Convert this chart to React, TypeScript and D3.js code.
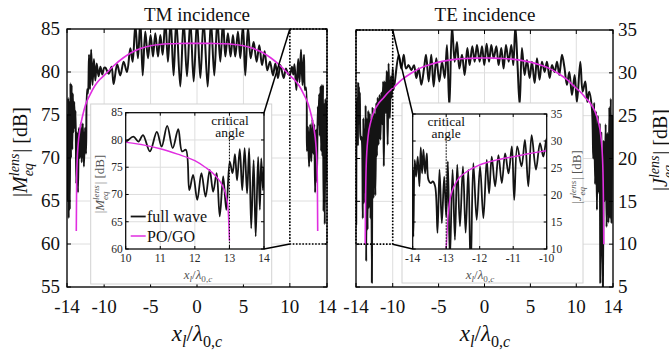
import React from 'react';
import * as d3 from 'd3';

// ---------------- DATA ----------------
const titles = ['TM incidence', 'TE incidence'];
const legendLabels = ['full wave', 'PO/GO'];
const criticalLabel = ['critical', 'angle'];

const mainXTicks = [-14, -10, -5, 0, 5, 10, 14];
const tmYTicks = [55, 60, 65, 70, 75, 80, 85];
const teYTicks = [5, 10, 15, 20, 25, 30, 35];
const tmInsetXTicks = [10, 11, 12, 13, 14];
const tmInsetYTicks = [60, 65, 70, 75, 80, 85];
const teInsetXTicks = [-14, -13, -12, -11, -10];
const teInsetYTicks = [10, 15, 20, 25, 30, 35];
const criticalTM = 13;
const criticalTE = -13;

// TM full wave (x / lambda, dB)
const tmFullX = [
  -14, -13.97, -13.92, -13.87, -13.82, -13.76, -13.7, -13.63, -13.57, -13.5, -13.43, -13.37, -13.3, -13.22, -13.16, -13.08,
  -13.0, -12.9, -12.82, -12.72, -12.62, -12.52, -12.42, -12.3, -12.18, -12.06, -11.95, -11.84, -11.74, -11.63, -11.52, -11.4,
  -11.25, -11.1, -10.95, -10.8, -10.6, -10.4, -10.2, -10.0,
  -9.87, -9.5, -9.2, -8.98, -8.6, -8.26, -7.9, -7.54, -7.18, -6.93, -6.64, -6.36, -6.1, -5.85, -5.57, -5.28, -5.0, -4.74,
  -4.49, -4.2, -3.95, -3.7, -3.41, -3.13, -2.84, -2.52, -2.23, -1.8, -1.44, -1.08, -0.72, -0.36, 0, 0.36, 0.71, 1.15, 1.5,
  1.86, 2.19, 2.51, 2.8, 3.05, 3.33, 3.62, 3.87, 4.12, 4.41, 4.66, 4.95, 5.2, 5.49, 5.78, 6.1, 6.42, 6.71, 7.0, 7.28, 7.57,
  7.86, 8.18, 8.43, 8.72, 8.97, 9.33, 9.58, 9.8,
  10, 10.22, 10.37, 10.5, 10.7, 10.9, 11.04, 11.2, 11.36, 11.52, 11.63, 11.74, 11.84, 11.95, 12.07, 12.19, 12.31, 12.43,
  12.53, 12.63, 12.72, 12.82, 12.91, 13.01, 13.09, 13.16, 13.22, 13.3, 13.37, 13.44, 13.51, 13.57, 13.63, 13.7, 13.76,
  13.83, 13.88, 13.92, 13.97, 14,
];
const tmFullY = [
  70, 75, 65, 77, 63, 76.5, 64, 78.7, 70, 78.5, 71, 77.5, 73, 76.5, 73.5, 75.5,
  67, 73, 66, 73.5, 70, 74, 69.5, 74, 69, 73.5, 70.5, 78, 77.5, 82, 78, 82.6,
  78.5, 81.5, 79, 81, 79.5, 80.6, 79.7, 80.5,
  80.5, 79.8, 80.6, 78.6, 80.9, 79.6, 81.2, 80.0, 82.75, 81.2, 85.5, 81.6, 86, 79.6, 84.7, 81.6, 84.3, 81.8,
  84.5, 81.8, 84.3, 82, 86, 81.2, 86, 79.6, 86, 78.3, 86, 79.5, 86, 78.9, 86, 79.3, 86, 78.3, 86,
  79.6, 86, 81.2, 86, 81.8, 84.5, 81.8, 84.3, 81.8, 84.7, 81.6, 85.5, 79.6, 85.2, 81.6, 83.5, 81.2, 83.1, 80.8, 82.4, 80.2,
  81.2, 79.6, 81.0, 79.3, 80.8, 79.3, 80.4, 79.8,
  79.7, 80.6, 79.7, 80.9, 77.9, 81.5, 78.8, 82.6, 78.5, 82, 77.9, 78.2, 70.8, 73.6, 69, 73.9, 69.6, 74.5,
  70.5, 73.9, 66, 73.3, 67.2, 76, 73.9, 77.4, 72.6, 78.3, 70.8, 78.5, 70.2, 78.5, 63.8, 76.3, 62.3,
  76.9, 67.2, 76.6, 70.8, 75,
];

// TM PO/GO
const tmPogoX = [
  -13.0, -12.96, -12.9, -12.8, -12.6, -12.3, -12, -11.5, -11, -10.5, -10, -9, -8, -7, -6, -5, -4, -3, -2, -1, 0,
  1, 2, 3, 4, 5, 6, 7, 8, 9, 10, 10.5, 11, 11.5, 12, 12.3, 12.6, 12.8, 12.9, 12.96, 13.0,
];
const tmPogoY = [
  61.5, 67.5, 69.8, 71.6, 73.4, 75, 76.2, 77.4, 78.4, 79.1, 79.6, 80.7, 81.6, 82.3, 82.75, 83.05, 83.2, 83.28, 83.32, 83.33, 83.33,
  83.33, 83.32, 83.28, 83.2, 83.05, 82.75, 82.3, 81.6, 80.7, 79.6, 79.1, 78.4, 77.4, 76.2, 75, 73.4, 71.6, 69.8, 67.5, 61.5,
];

// TE full wave
const teFullX = [
  -14, -13.98, -13.94, -13.9, -13.85, -13.8, -13.76, -13.72, -13.68, -13.63, -13.58, -13.53, -13.46, -13.4, -13.33, -13.26,
  -13.2, -13.13, -13.06, -13.0, -12.95, -12.89, -12.81, -12.74, -12.67, -12.59, -12.5, -12.42, -12.34, -12.27, -12.19, -12.09,
  -11.99, -11.89, -11.79, -11.72, -11.64, -11.54, -11.44, -11.34, -11.24, -11.14, -11.04, -10.97, -10.88, -10.75, -10.65,
  -10.55, -10.45, -10.32, -10.2, -10.1, -10,
  -9.9, -9.35, -9.06, -8.8, -8.55, -8.26, -7.97, -7.68, -7.43, -7.17, -6.88, -6.59, -6.37, -6.08, -5.8, -5.54, -5.25, -4.92,
  -4.63, -4.34, -4.09, -3.83, -3.54, -3.25, -3.0, -2.74, -2.45, -2.16, -1.87, -1.62, -1.33, -1.07, -0.82, -0.53, -0.27, -0.02,
  0.23, 0.49, 0.74, 1.0, 1.29, 1.54, 1.83, 2.08, 2.34, 2.63, 2.92, 3.14, 3.36, 3.6, 3.83, 4.08, 4.37, 4.63, 4.92, 5.17, 5.46,
  5.72, 6.0, 6.26, 6.55, 6.8, 7.1, 7.35, 7.64, 7.9, 8.15, 8.44, 8.7, 8.98, 9.24, 9.53, 9.82, 10.07, 10.44, 10.69, 10.98, 11.2,
  11.4, 11.7,
  11.85, 11.95, 12.05, 12.15, 12.25, 12.35, 12.45, 12.55, 12.62, 12.72, 12.8, 12.9, 13.0, 13.1, 13.2, 13.3, 13.4, 13.5, 13.6,
  13.68, 13.76, 13.84, 13.92, 14,
];
const teFullY = [
  24.7, 12.3, 26.5, 23.4, 27.1, 21.6, 28.8, 24, 28.4, 24, 27.7, 22.8, 22.2, 22.5, 21.6, 13,
  24.7, 14.8, 23.4, 16, 26.2, 8, 24.7, 11.7, 25.6, 14.2, 25.3, 13, 24.7, 5.5, 25.9, 15.4,
  25.3, 15.7, 26.5, 20.3, 27.1, 21.6, 27.4, 22.2, 27.7, 24, 29, 19.1, 29, 25.3, 30.2,
  21.6, 31.1, 24.7, 29.6, 27.1, 30.5,
  28, 32.1, 30.5, 32.1, 30.5, 30.9, 30.3, 30.9, 29.4, 30.5, 28.6, 30.5, 32.1, 29, 32.1, 28.4, 31.7, 29,
  31.3, 29.4, 33.25, 25.9, 35.5, 31.3, 33.6, 30.5, 32.1, 29.75, 32.9, 30.9, 33.1, 31.3, 33.25, 31.3, 33.1, 30.9,
  33.4, 31.3, 33.25, 31.7, 33.1, 30.9, 32.9, 30.5, 33.25, 31.3, 33.25, 30.9, 35.5, 30.9, 26.2, 32.9, 29.75, 31.5, 29.4, 31.3, 28.8,
  31.7, 29.2, 31.3, 30.1, 31.3, 29.4, 30.9, 30.1, 31.3, 29.75, 32.1, 30.7, 28.6, 30.1, 27.4, 29.75, 26.6, 31.3, 27.8, 29, 26.6,
  27.8, 25.9,
  20, 26.5, 17, 25.5, 14, 25, 16, 24, 5.5, 23, 13, 5, 22, 15, 24, 12, 23, 12.5, 26,
  13, 27, 12.5, 25, 20,
];

// TE PO/GO
const tePogoX = [
  -13.0, -12.96, -12.89, -12.69, -12.39, -11.99, -11.49, -10.99, -10.5, -10, -9, -8, -7, -6, -5, -4, -3, -2, -1, 0,
  1, 2, 3, 4, 5, 6, 7, 8, 9, 10, 10.5, 10.99, 11.49, 11.99, 12.39, 12.69, 12.89, 12.96, 13.0,
];
const tePogoY = [
  10, 14.8, 19.1, 22.5, 24.3, 25.6, 26.5, 27.1, 27.7, 28.2, 29.2, 29.95, 30.55, 30.95, 31.25, 31.45, 31.6, 31.68, 31.72, 31.73,
  31.72, 31.68, 31.6, 31.45, 31.25, 30.95, 30.55, 29.95, 29.2, 28.2, 27.7, 27.1, 26.5, 25.6, 24.3, 22.5, 19.1, 14.8, 10,
];

// ---------------- STYLE ----------------
const FONT = '"Liberation Serif", "DejaVu Serif", serif';
const MAGENTA = '#e02ee0';
const BLACK = '#141414';
const GRID = '#dedede';

type Scale = d3.ScaleLinear<number, number>;

function makeLine(x: Scale, y: Scale, X: number[], Y: number[], smooth: boolean) {
  const idx = d3.range(X.length);
  const gen = d3
    .line<number>()
    .x((i) => x(X[i]))
    .y((i) => y(Y[i]))
    .curve(smooth ? d3.curveCatmullRom.alpha(0.5) : d3.curveMonotoneX);
  return gen(idx) || '';
}

function YLabel({ letter, fs }: { letter: string; fs: number }) {
  const s = fs * 0.7;
  const supW = s * 1.62;
  const subW = s * 0.95;
  return (
    <>
      <tspan>|</tspan>
      <tspan fontStyle="italic">{letter}</tspan>
      <tspan fontStyle="italic" fontSize={s} dy={-fs * 0.42}>lens</tspan>
      <tspan fontStyle="italic" fontSize={s} dx={-supW} dy={fs * 0.7}>eq</tspan>
      <tspan dx={supW - subW + 1} dy={-fs * 0.28}>| [dB]</tspan>
    </>
  );
}

function XLabel({ fs }: { fs: number }) {
  const s = fs * 0.7;
  return (
    <>
      <tspan fontStyle="italic">x</tspan>
      <tspan fontStyle="italic" fontSize={s} dy={fs * 0.25}>l</tspan>
      <tspan dy={-fs * 0.25}>/</tspan>
      <tspan fontStyle="italic">λ</tspan>
      <tspan fontSize={s} dy={fs * 0.25}>0,</tspan>
      <tspan fontStyle="italic" fontSize={s}>c</tspan>
    </>
  );
}

interface AxesProps {
  id: string;
  x: Scale;
  y: Scale;
  xTicks: number[];
  yTicks: number[];
  yRight: boolean;
  tickFs: number;
  tickLen: number;
  boxW: number;
  lineW: number;
  textColor: string;
  xTickGap: number;
  yTickGap: number;
  full: [number[], number[]];
  pogo: [number[], number[]];
}

function Axes(p: AxesProps) {
  const [x0, x1] = p.x.range();
  const [yb, yt] = p.y.range();
  return (
    <g>
      <defs>
        <clipPath id={p.id}>
          <rect x={x0} y={yt} width={x1 - x0} height={yb - yt} />
        </clipPath>
      </defs>
      {p.xTicks.map((t) => (
        <line key={'gx' + t} x1={p.x(t)} x2={p.x(t)} y1={yt} y2={yb} stroke={GRID} strokeWidth={1} />
      ))}
      {p.yTicks.map((t) => (
        <line key={'gy' + t} x1={x0} x2={x1} y1={p.y(t)} y2={p.y(t)} stroke={GRID} strokeWidth={1} />
      ))}
      <g clipPath={`url(#${p.id})`}>
        <path d={makeLine(p.x, p.y, p.full[0], p.full[1], true)} fill="none" stroke={BLACK} strokeWidth={p.lineW} strokeLinejoin="round" />
        <path d={makeLine(p.x, p.y, p.pogo[0], p.pogo[1], false)} fill="none" stroke={MAGENTA} strokeWidth={p.lineW * 0.8} />
      </g>
      {p.xTicks.map((t) => (
        <g key={'tx' + t}>
          <line x1={p.x(t)} x2={p.x(t)} y1={yb} y2={yb - p.tickLen} stroke="#000" strokeWidth={1} />
          <line x1={p.x(t)} x2={p.x(t)} y1={yt} y2={yt + p.tickLen} stroke="#000" strokeWidth={1} />
          <text x={p.x(t)} y={yb + p.xTickGap} textAnchor="middle" fontSize={p.tickFs} fill={p.textColor} fontFamily={FONT}>
            {t}
          </text>
        </g>
      ))}
      {p.yTicks.map((t) => (
        <g key={'ty' + t}>
          <line x1={x0} x2={x0 + p.tickLen} y1={p.y(t)} y2={p.y(t)} stroke="#000" strokeWidth={1} />
          <line x1={x1} x2={x1 - p.tickLen} y1={p.y(t)} y2={p.y(t)} stroke="#000" strokeWidth={1} />
          <text
            x={p.yRight ? x1 + p.yTickGap : x0 - p.yTickGap}
            y={p.y(t) + p.tickFs * 0.33}
            textAnchor={p.yRight ? 'start' : 'end'}
            fontSize={p.tickFs}
            fill={p.textColor}
            fontFamily={FONT}
          >
            {t}
          </text>
        </g>
      ))}
      <rect x={x0} y={yt} width={x1 - x0} height={yb - yt} fill="none" stroke="#000" strokeWidth={p.boxW} />
    </g>
  );
}

export default function App() {
  // main axes
  const xL = d3.scaleLinear().domain([-14, 14]).range([67, 327]);
  const yL = d3.scaleLinear().domain([55, 85]).range([287, 29]);
  const xR = d3.scaleLinear().domain([-14, 14]).range([356, 613]);
  const yR = d3.scaleLinear().domain([5, 35]).range([287, 30]);
  // insets
  const xLI = d3.scaleLinear().domain([10, 14]).range([125.7, 264]);
  const yLI = d3.scaleLinear().domain([60, 85]).range([249, 112.7]);
  const xRI = d3.scaleLinear().domain([-14, -10]).range([412.7, 546.7]);
  const yRI = d3.scaleLinear().domain([10, 35]).range([249, 114]);

  const dotted = { stroke: '#000', strokeWidth: 1.6, strokeDasharray: '1.6,1.6', fill: 'none' };

  return (
    <svg
      width={669}
      height={354}
      viewBox="0 0 669 354"
      style={{ position: 'absolute', left: 0, top: 0, background: '#fff' }}
      fontFamily={FONT}
    >
      <rect x={0} y={0} width={669} height={354} fill="#fff" />
      {/* titles */}
      <text x={197} y={20.5} textAnchor="middle" fontSize={19} fill="#111">{titles[0]}</text>
      <text x={485} y={20.5} textAnchor="middle" fontSize={19} fill="#111">{titles[1]}</text>

      {/* main left */}
      <Axes
        id="clipL" x={xL} y={yL} xTicks={mainXTicks} yTicks={tmYTicks} yRight={false}
        tickFs={19} tickLen={4} boxW={1.3} lineW={2} textColor="#111" xTickGap={26} yTickGap={7}
        full={[tmFullX, tmFullY]} pogo={[tmPogoX, tmPogoY]}
      />
      {/* main right */}
      <Axes
        id="clipR" x={xR} y={yR} xTicks={mainXTicks} yTicks={teYTicks} yRight={true}
        tickFs={19} tickLen={4} boxW={1.3} lineW={2} textColor="#111" xTickGap={26} yTickGap={5}
        full={[teFullX, teFullY]} pogo={[tePogoX, tePogoY]}
      />

      {/* axis labels */}
      <text x={197} y={341} textAnchor="middle" fontSize={23} fill="#111"><XLabel fs={23} /></text>
      <text x={485} y={341} textAnchor="middle" fontSize={23} fill="#111"><XLabel fs={23} /></text>
      <text transform="translate(27,152) rotate(-90)" textAnchor="middle" fontSize={20} fill="#111"><YLabel letter="M" fs={20} /></text>
      <text transform="translate(667,150) rotate(-90)" textAnchor="middle" fontSize={20} fill="#111"><YLabel letter="J" fs={20} /></text>

      {/* zoom rectangles */}
      <rect x={xL(10)} y={yL(85)} width={xL(14) - xL(10)} height={yL(60) - yL(85)} {...dotted} />
      <rect x={xR(-14)} y={yR(35)} width={xR(-10) - xR(-14)} height={yR(10) - yR(35)} {...dotted} />

      {/* inset left */}
      <rect x={90.7} y={104} width={181} height={180} fill="#fff" stroke="#d2d2d2" strokeWidth={1} />
      <Axes
        id="clipLI" x={xLI} y={yLI} xTicks={tmInsetXTicks} yTicks={tmInsetYTicks} yRight={false}
        tickFs={11.5} tickLen={3} boxW={1.2} lineW={1.8} textColor="#262626" xTickGap={13} yTickGap={3}
        full={[tmFullX, tmFullY]} pogo={[tmPogoX, tmPogoY]}
      />
      <line x1={xLI(criticalTM)} x2={xLI(criticalTM)} y1={yLI(80.6)} y2={yLI(60)} stroke="#000" strokeWidth={1} strokeDasharray="1.5,1.5" />
      <text textAnchor="middle" fontSize={13.5} fill="#111">
        <tspan x={xLI(criticalTM) + 0.5} y={124.5}>{criticalLabel[0]}</tspan>
        <tspan x={xLI(criticalTM) + 0.5} y={136.5}>{criticalLabel[1]}</tspan>
      </text>
      <text x={198} y={279} textAnchor="middle" fontSize={13} fill="#555"><XLabel fs={13} /></text>
      <text transform="translate(104,184) rotate(-90)" textAnchor="middle" fontSize={13} fill="#555"><YLabel letter="M" fs={13} /></text>
      {/* legend */}
      <line x1={130.7} x2={145.7} y1={216.5} y2={216.5} stroke={BLACK} strokeWidth={1.8} />
      <text x={147} y={221.5} fontSize={16} fill="#111">{legendLabels[0]}</text>
      <line x1={130.7} x2={145.7} y1={236} y2={236} stroke={MAGENTA} strokeWidth={1.5} />
      <text x={147} y={241.5} fontSize={16} fill="#111">{legendLabels[1]}</text>

      {/* inset right */}
      <rect x={402} y={103} width={181} height={180} fill="#fff" stroke="#d2d2d2" strokeWidth={1} />
      <Axes
        id="clipRI" x={xRI} y={yRI} xTicks={teInsetXTicks} yTicks={teInsetYTicks} yRight={true}
        tickFs={11.5} tickLen={3} boxW={1.2} lineW={1.8} textColor="#262626" xTickGap={13} yTickGap={4}
        full={[teFullX, teFullY]} pogo={[tePogoX, tePogoY]}
      />
      <line x1={xRI(criticalTE)} x2={xRI(criticalTE)} y1={yRI(30.5)} y2={yRI(10)} stroke="#000" strokeWidth={1} strokeDasharray="1.5,1.5" />
      <text textAnchor="middle" fontSize={13.5} fill="#111">
        <tspan x={xRI(criticalTE)} y={125.5}>{criticalLabel[0]}</tspan>
        <tspan x={xRI(criticalTE)} y={137.5}>{criticalLabel[1]}</tspan>
      </text>
      <text x={480} y={279} textAnchor="middle" fontSize={13} fill="#555"><XLabel fs={13} /></text>
      <text transform="translate(581,177) rotate(-90)" textAnchor="middle" fontSize={13} fill="#555"><YLabel letter="J" fs={13} /></text>

      {/* connector lines */}
      <line x1={xL(10)} y1={yL(85)} x2={xLI(14)} y2={yLI(85)} stroke="#000" strokeWidth={1.5} />
      <line x1={xL(10)} y1={yL(60)} x2={xLI(14)} y2={yLI(60)} stroke="#000" strokeWidth={1.5} />
      <line x1={xR(-10)} y1={yR(35)} x2={xRI(-14)} y2={yRI(35)} stroke="#000" strokeWidth={1.5} />
      <line x1={xR(-10)} y1={yR(10)} x2={xRI(-14)} y2={yRI(10)} stroke="#000" strokeWidth={1.5} />
    </svg>
  );
}
